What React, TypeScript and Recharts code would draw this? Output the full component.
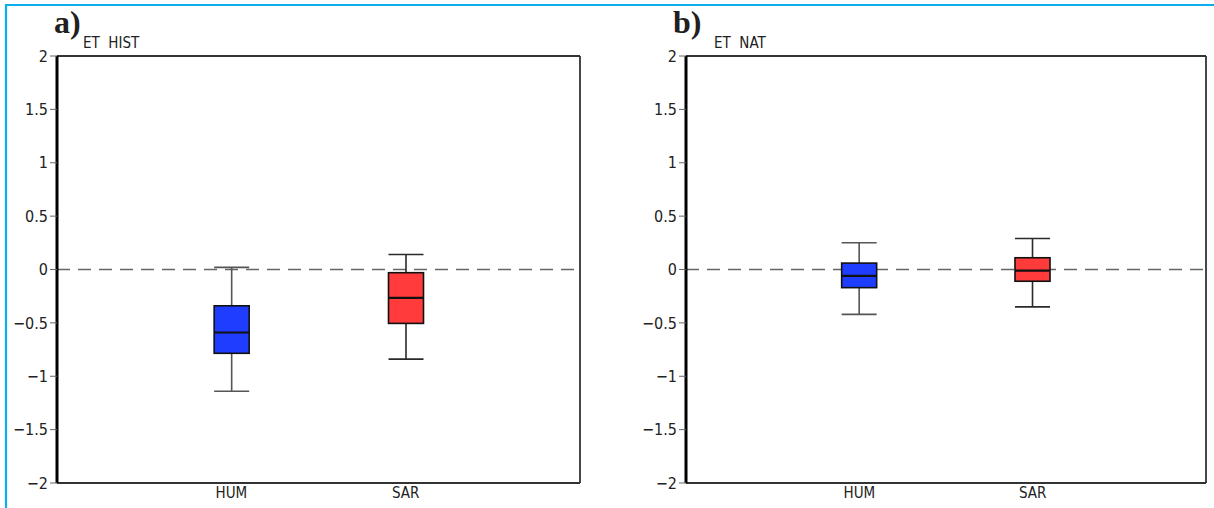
import React from "react";
import { ComposedChart, Bar, XAxis, YAxis, ReferenceLine, CartesianGrid } from "recharts";

// ---- data ----
const categories = ["HUM", "SAR"];
const boxColors = ["#1f3dff", "#ff3b3b"];
const whiskerColors = ["#555555", "#2a2a2a"];

const histMin = [-1.14, -0.84];
const histQ1 = [-0.785, -0.505];
const histMedian = [-0.59, -0.265];
const histQ3 = [-0.34, -0.03];
const histMax = [0.02, 0.14];

const natMin = [-0.42, -0.35];
const natQ1 = [-0.17, -0.11];
const natMedian = [-0.06, -0.01];
const natQ3 = [0.06, 0.11];
const natMax = [0.25, 0.29];

const yTicks = [-2, -1.5, -1, -0.5, 0, 0.5, 1, 1.5, 2];
const xTicks = [1, 2];
const zeroLine = [0];

const panelLetters = ["a)", "b)"];
const panelTitles = ["ET  HIST", "ET  NAT"];

function buildRows(mn: number[], q1: number[], med: number[], q3: number[], mx: number[]) {
  return categories.map((c, i) => ({
    name: c,
    pos: i + 1,
    min: mn[i],
    q1: q1[i],
    median: med[i],
    q3: q3[i],
    max: mx[i],
    color: boxColors[i],
    whisker: whiskerColors[i],
  }));
}

const histRows = buildRows(histMin, histQ1, histMedian, histQ3, histMax);
const natRows = buildRows(natMin, natQ1, natMedian, natQ3, natMax);

const NARROW = "'Liberation Sans Narrow', 'DejaVu Sans Condensed', 'Liberation Sans', Arial, sans-serif";

const BoxShape = (props: any) => {
  const { x, y, width, height, payload } = props;
  if (payload == null) return null;
  const top = Math.min(y, y + height);
  const bottom = Math.max(y, y + height);
  const span = payload.max - payload.min;
  const py = (v: number) => top + ((payload.max - v) / span) * (bottom - top);
  const yMax = py(payload.max);
  const yMin = py(payload.min);
  const yQ3 = py(payload.q3);
  const yQ1 = py(payload.q1);
  const yMed = py(payload.median);
  const cx = x + width / 2;
  return (
    <g>
      <line x1={cx} x2={cx} y1={yMax} y2={yQ3} stroke={payload.whisker} strokeWidth={1.6} />
      <line x1={cx} x2={cx} y1={yQ1} y2={yMin} stroke={payload.whisker} strokeWidth={1.6} />
      <line x1={x} x2={x + width} y1={yMax} y2={yMax} stroke={payload.whisker} strokeWidth={1.6} />
      <line x1={x} x2={x + width} y1={yMin} y2={yMin} stroke={payload.whisker} strokeWidth={1.6} />
      <rect x={x} y={yQ3} width={width} height={yQ1 - yQ3} fill={payload.color} stroke="#111" strokeWidth={1.6} />
      <line x1={x} x2={x + width} y1={yMed} y2={yMed} stroke="#111" strokeWidth={2.2} />
    </g>
  );
};

const fmtY = (v: number) => String(v).replace("-", "\u2212");
const fmtX = (v: number) => categories[v - 1] ?? "";

function Panel({ rows, width, margin }: { rows: any[]; width: number; margin: any }) {
  return (
    <ComposedChart width={width} height={508} data={rows} margin={margin}>
      <CartesianGrid
        vertical={false}
        horizontalValues={zeroLine}
        stroke="#666"
        strokeWidth={1.6}
        strokeDasharray="13 8"
      />
      <XAxis
        type="number"
        dataKey="pos"
        domain={[0, 3]}
        ticks={xTicks}
        tickFormatter={fmtX}
        tickLine={false}
        tickSize={2}
        tickMargin={2}
        height={25}
        axisLine={{ stroke: "#333", strokeWidth: 1.8 }}
        tick={{ fontSize: 15, fill: "#222", fontFamily: NARROW }}
        allowDataOverflow
      />
      <YAxis
        type="number"
        domain={[-2, 2]}
        ticks={yTicks}
        tickFormatter={fmtY}
        width={50}
        tickSize={7}
        tickLine={{ stroke: "#666", strokeWidth: 1 }}
        axisLine={{ stroke: "#000", strokeWidth: 3 }}
        tick={{ fontSize: 16, fill: "#222", fontFamily: NARROW }}
        allowDataOverflow
      />
      <ReferenceLine y={2} stroke="#333" strokeWidth={1.8} />
      <ReferenceLine x={3} stroke="#333" strokeWidth={1.8} />
      <Bar
        dataKey={(d: any) => [d.min, d.max]}
        barSize={35}
        shape={BoxShape}
        isAnimationActive={false}
      />
    </ComposedChart>
  );
}

export default function App() {
  return (
    <div style={{ position: "absolute", left: 0, top: 0, width: 1214, height: 508, background: "#fff", overflow: "hidden" }}>
      <div style={{ position: "absolute", left: 0, top: 0 }}>
        <Panel rows={histRows} width={600} margin={{ top: 56, right: 20, bottom: 0, left: 7 }} />
      </div>
      <div style={{ position: "absolute", left: 620, top: 0 }}>
        <Panel rows={natRows} width={594} margin={{ top: 56, right: 8, bottom: 0, left: 16 }} />
      </div>
      <svg width={1214} height={508} style={{ position: "absolute", left: 0, top: 0, pointerEvents: "none" }}>
        <line x1={5} x2={1214} y1={5} y2={5} stroke="#0aaeea" strokeWidth={2} />
        <line x1={6} x2={6} y1={4} y2={508} stroke="#0aaeea" strokeWidth={2.2} />
        <text x={54} y={33} fontFamily="'Liberation Serif', 'Times New Roman', serif" fontWeight="bold" fontSize={32} fill="#231f20">
          {panelLetters[0]}
        </text>
        <text x={83} y={48} fontFamily={NARROW} fontSize={15} fill="#222" style={{ whiteSpace: "pre" }}>
          {panelTitles[0]}
        </text>
        <text x={673} y={33} fontFamily="'Liberation Serif', 'Times New Roman', serif" fontWeight="bold" fontSize={32} fill="#231f20">
          {panelLetters[1]}
        </text>
        <text x={714} y={48} fontFamily={NARROW} fontSize={15} fill="#222" style={{ whiteSpace: "pre" }}>
          {panelTitles[1]}
        </text>
      </svg>
    </div>
  );
}
